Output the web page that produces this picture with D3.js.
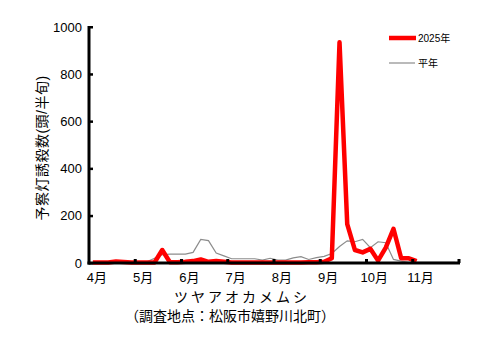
<!DOCTYPE html>
<html>
<head>
<meta charset="utf-8">
<script src="https://cdn.jsdelivr.net/npm/d3@7"></script>
<style>
  body { margin: 0; background: #fff; }
  text { font-family: "Liberation Sans", "Noto Sans CJK JP", sans-serif; }
</style>
</head>
<body>
<div id="chart"></div>
<script>
// month labels (6 half-month periods per month, Apr-Nov)
var months = ["4月", "5月", "6月", "7月", "8月", "9月", "10月", "11月"];
var yTicks = [0, 200, 400, 600, 800, 1000];

// 2025 counts per 半旬 (ends early Nov)
var y2025 = [2, 2, 2, 6, 4, 2, 2, 2, 2, 55,
             3, 3, 5, 8, 15, 5, 8, 5, 2, 2,
             2, 2, 2, 2, 2, 2, 2, 2, 3, 3,
             5, 20, 935, 165, 55, 45, 60, 10, 65, 145,
             20, 20, 8];

// 平年 (normal year)
var yNormal = [3, 3, 3, 3, 3, 3, 3, 5, 20, 35,
               38, 38, 38, 45, 100, 95, 42, 30, 18, 18,
               18, 18, 12, 20, 12, 12, 22, 27, 15, 23,
               28, 40, 70, 94, 90, 100, 65, 90, 86, 15,
               8, 3, 3, 3, 3, 3, 3, 3];

var W = 502, H = 347;
var margin = {top: 27, left: 89, right: 43, bottom: 84};
var plotW = W - margin.left - margin.right,
    plotH = H - margin.top - margin.bottom;

var svg = d3.select("#chart").append("svg")
    .attr("width", W)
    .attr("height", H);

var g = svg.append("g")
    .attr("transform", "translate(" + margin.left + "," + margin.top + ")");

var nPer = months.length * 6;
var x = d3.scaleBand()
    .domain(d3.range(nPer))
    .range([0, plotW]);

var y = d3.scaleLinear()
    .domain([0, 1000])
    .range([plotH, 0]);

// data lines
var line = d3.line()
    .x(function(d, i) { return x(i) + x.bandwidth() / 2; })
    .y(function(d) { return y(d); });

g.append("path")
    .datum(yNormal)
    .attr("fill", "none")
    .attr("stroke", "#8c8c8c")
    .attr("stroke-width", 1.2)
    .attr("d", line);

g.append("path")
    .datum(y2025)
    .attr("fill", "none")
    .attr("stroke", "#ff0000")
    .attr("stroke-width", 4.5)
    .attr("stroke-linejoin", "round")
    .attr("d", line);

// y axis
var yAxis = g.append("g")
    .call(d3.axisLeft(y).tickValues(yTicks).tickFormat(d3.format("d"))
        .tickSize(0).tickPadding(7));
yAxis.select(".domain").remove();
yAxis.selectAll("text")
    .attr("font-size", 13)
    .attr("fill", "#000");

g.append("line")
    .attr("x1", 0).attr("x2", 0)
    .attr("y1", y(1000) - 1).attr("y2", plotH + 1.5)
    .attr("stroke", "#000")
    .attr("stroke-width", 3);

g.selectAll(".ytick")
    .data(yTicks)
    .enter().append("rect")
    .attr("x", 0)
    .attr("y", function(d) { return y(d) - 1; })
    .attr("width", 4)
    .attr("height", 2.5)
    .attr("fill", "#000");

// x axis
g.append("line")
    .attr("x1", -1.5).attr("x2", plotW + 1)
    .attr("y1", plotH).attr("y2", plotH)
    .attr("stroke", "#000")
    .attr("stroke-width", 3);

var monthEdges = d3.range(1, months.length + 1).map(function(m) {
    return m * 6 < nPer ? x(m * 6) : plotW;
});
g.selectAll(".xtick")
    .data(monthEdges)
    .enter().append("rect")
    .attr("x", function(d) { return d - 1.5; })
    .attr("y", plotH - 4)
    .attr("width", 3)
    .attr("height", 4)
    .attr("fill", "#000");

g.selectAll(".xlab")
    .data(months)
    .enter().append("text")
    .attr("x", function(d, i) { return x(i * 6) + x.bandwidth() / 2 + 4; })
    .attr("y", plotH + 19)
    .attr("text-anchor", "middle")
    .attr("font-size", 13)
    .text(function(d) { return d; });

// titles
svg.append("text")
    .attr("transform", "translate(47," + (margin.top + plotH / 2 + 3) + ") rotate(-90)")
    .attr("text-anchor", "middle")
    .attr("font-size", 14)
    .attr("letter-spacing", 0.5)
    .text("予察灯誘殺数(頭/半旬)");

svg.append("text")
    .attr("x", 242).attr("y", 302)
    .attr("text-anchor", "middle")
    .attr("font-size", 14)
    .attr("letter-spacing", 3)
    .text("ツヤアオカメムシ");

svg.append("text")
    .attr("x", 230).attr("y", 321)
    .attr("text-anchor", "middle")
    .attr("font-size", 14)
    .text("（調査地点：松阪市嬉野川北町）");

// legend
var legend = svg.append("g");
legend.append("line")
    .attr("x1", 389).attr("x2", 416)
    .attr("y1", 38).attr("y2", 38)
    .attr("stroke", "#ff0000")
    .attr("stroke-width", 4.5);
legend.append("text")
    .attr("x", 418).attr("y", 42)
    .attr("font-size", 10)
    .text("2025年");
legend.append("line")
    .attr("x1", 389).attr("x2", 415)
    .attr("y1", 63).attr("y2", 63)
    .attr("stroke", "#8c8c8c")
    .attr("stroke-width", 1.2);
legend.append("text")
    .attr("x", 418).attr("y", 67)
    .attr("font-size", 10)
    .text("平年");
</script>
</body>
</html>
